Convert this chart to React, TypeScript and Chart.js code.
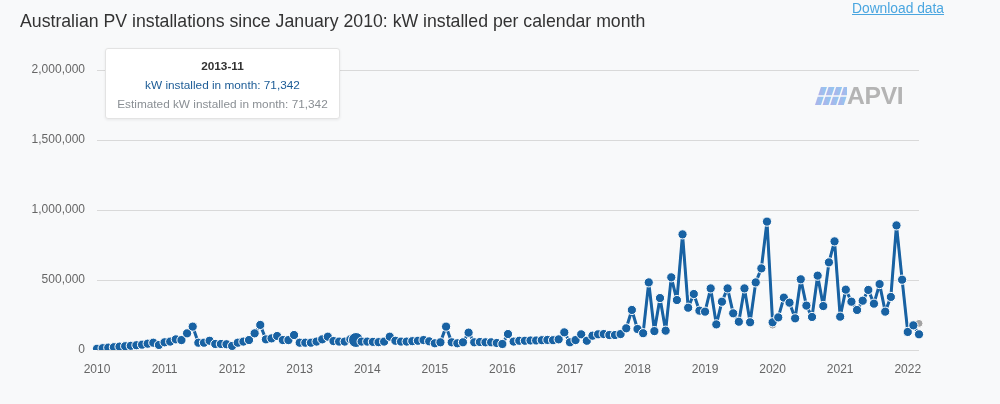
import React, { useEffect, useRef } from 'react';
import { Chart, registerables } from 'chart.js';

Chart.register(...registerables);

// ---- data ----
const START_YEAR = 2010;
const TITLE = 'Australian PV installations since January 2010: kW installed per calendar month';
const SERIES_NAME = 'kW installed in month';
const ESTIMATE_NAME = 'Estimated kW installed in month';

// kW installed per month, 2010-01 .. 2022-03
const INSTALLED_KW = [
  // 2010
  9000, 13000, 17000, 20000, 24000, 27000, 30000, 34000, 38000, 45000, 52000, 36000,
  // 2011
  55000, 60000, 76000, 71000, 119000, 167000, 52000, 52000, 66000, 43000, 43000, 41000,
  // 2012
  29000, 52000, 60000, 71000, 119000, 179000, 76000, 83000, 100000, 71000, 71000, 107000,
  // 2013
  52000, 52000, 52000, 60000, 76000, 95000, 64000, 60000, 60000, 76000, 71342, 60000,
  // 2014
  60000, 58000, 56000, 60000, 95000, 66000, 60000, 60000, 63000, 66000, 71000, 62000,
  // 2015
  48000, 55000, 167000, 55000, 48000, 55000, 124000, 55000, 57000, 55000, 55000, 50000,
  // 2016
  43000, 114000, 60000, 66000, 66000, 68000, 68000, 70000, 72000, 70000, 76000, 126000,
  // 2017
  55000, 71000, 112000, 66000, 102000, 112000, 114000, 107000, 107000, 114000, 155000, 286000,
  // 2018
  150000, 120000, 483000, 135000, 371000, 138000, 519000, 357000, 826000, 302000, 400000, 281000,
  // 2019
  274000, 440000, 183000, 345000, 440000, 262000, 202000, 440000, 198000, 483000, 583000, 917000,
  // 2020
  198000, 233000, 374000, 338000, 226000, 505000, 317000, 236000, 531000, 314000, 626000, 776000,
  // 2021
  238000, 431000, 345000, 286000, 352000, 429000, 331000, 471000, 274000, 379000, 890000, 502000,
  // 2022
  129000, 176000, 112000,
];

// estimated kW installed per month, 2010-01 .. 2022-03
const ESTIMATED_KW = [
  9000, 13000, 17000, 20000, 24000, 27000, 30000, 34000, 38000, 45000, 52000, 36000,
  55000, 60000, 76000, 71000, 119000, 167000, 52000, 52000, 66000, 43000, 43000, 41000,
  29000, 52000, 60000, 71000, 119000, 179000, 76000, 83000, 100000, 71000, 71000, 107000,
  52000, 52000, 52000, 60000, 76000, 95000, 64000, 60000, 60000, 76000, 71342, 60000,
  60000, 58000, 56000, 60000, 95000, 66000, 60000, 60000, 63000, 66000, 71000, 62000,
  48000, 55000, 167000, 55000, 48000, 55000, 124000, 55000, 57000, 55000, 55000, 50000,
  43000, 114000, 60000, 66000, 66000, 68000, 68000, 70000, 72000, 70000, 76000, 126000,
  55000, 71000, 112000, 66000, 102000, 112000, 114000, 107000, 107000, 114000, 155000, 286000,
  150000, 120000, 483000, 135000, 371000, 138000, 519000, 357000, 826000, 302000, 400000, 281000,
  274000, 440000, 183000, 345000, 440000, 262000, 202000, 440000, 198000, 483000, 583000, 917000,
  178000, 233000, 374000, 338000, 226000, 505000, 317000, 236000, 531000, 314000, 626000, 776000,
  238000, 431000, 345000, 286000, 352000, 429000, 331000, 471000, 274000, 379000, 890000, 502000,
  129000, 180000, 190000,
];

const Y_MIN = 0;
const Y_MAX = 2000000;
const Y_STEP = 500000;
const HOVER_INDEX = 46; // 2013-11

const MONTH_LABELS = INSTALLED_KW.map(
  (_, i) => `${START_YEAR + Math.floor(i / 12)}-${String((i % 12) + 1).padStart(2, '0')}`
);

const FONT = "'Liberation Sans', Arial, Helvetica, sans-serif";
const BLUE = '#1862a3';
const GREY_EST = '#a3a3a3';
const fmt = (v: number) => v.toLocaleString('en-US');

export default function App() {
  const canvasRef = useRef<HTMLCanvasElement | null>(null);

  useEffect(() => {
    if (!canvasRef.current) return;
    const chart = new Chart(canvasRef.current, {
      type: 'line',
      data: {
        labels: MONTH_LABELS,
        datasets: [
          {
            label: SERIES_NAME,
            data: INSTALLED_KW,
            borderColor: BLUE,
            backgroundColor: BLUE,
            borderWidth: 3,
            borderJoinStyle: 'round',
            borderCapStyle: 'round',
            pointBackgroundColor: BLUE,
            pointBorderColor: '#ffffff',
            pointBorderWidth: 1,
            pointRadius: (ctx: any) => (ctx.dataIndex === HOVER_INDEX ? 7.5 : 4.6),
            tension: 0,
          },
          {
            label: ESTIMATE_NAME,
            data: ESTIMATED_KW,
            borderColor: GREY_EST,
            backgroundColor: GREY_EST,
            borderWidth: 2,
            borderJoinStyle: 'round',
            pointBackgroundColor: GREY_EST,
            pointBorderColor: '#ffffff',
            pointBorderWidth: 1,
            pointRadius: 4,
            tension: 0,
          },
        ],
      },
      options: {
        responsive: false,
        animation: false,
        events: [],
        layout: { padding: { top: 70, right: 81, left: 0, bottom: 0 } },
        plugins: {
          legend: { display: false },
          tooltip: { enabled: false },
          title: { display: false },
        },
        scales: {
          x: {
            type: 'category',
            offset: false,
            grid: { display: false, drawTicks: false },
            border: { display: false },
            ticks: {
              autoSkip: false,
              maxRotation: 0,
              minRotation: 0,
              padding: 12,
              color: '#666666',
              font: { family: FONT, size: 12 },
              callback: (_v: any, idx: number) =>
                idx % 12 === 0 ? MONTH_LABELS[idx].slice(0, 4) : null,
            },
            afterFit: (scale: any) => {
              scale.height = 54;
            },
          },
          y: {
            min: Y_MIN,
            max: Y_MAX,
            grid: { color: '#d9d9d9', lineWidth: 1, drawTicks: false },
            border: { display: false },
            ticks: {
              stepSize: Y_STEP,
              padding: 12,
              color: '#666666',
              font: { family: FONT, size: 12 },
              callback: (v: any) => fmt(Number(v)),
            },
            afterFit: (scale: any) => {
              scale.width = 97;
            },
          },
        },
      },
    } as any);
    return () => chart.destroy();
  }, []);

  const tipLabel = MONTH_LABELS[HOVER_INDEX];
  const tipVal = INSTALLED_KW[HOVER_INDEX];
  const tipEst = ESTIMATED_KW[HOVER_INDEX];

  // APVI logo tiles
  const tiles: string[] = [];
  const H = 18;
  const slant = 0.33;
  const rows: [number, number][] = [
    [0, 8.2],
    [9.8, 18],
  ];
  for (let c = 0; c < 4; c++) {
    for (const [y0, y1] of rows) {
      const xl = (y: number) => c * 7.6 + (H - y) * slant;
      const w = 6;
      tiles.push(
        `${xl(y0)},${y0} ${xl(y0) + w},${y0} ${xl(y1) + w},${y1} ${xl(y1)},${y1}`
      );
    }
  }

  return (
    <div
      style={{
        position: 'fixed',
        left: 0,
        top: 0,
        width: 1000,
        height: 404,
        background: '#f8f9fa',
        fontFamily: FONT,
        overflow: 'hidden',
      }}
    >
      <canvas
        ref={canvasRef}
        width={1000}
        height={404}
        style={{ position: 'absolute', left: 0, top: 0, width: 1000, height: 404 }}
      />
      <div
        style={{
          position: 'absolute',
          left: 20,
          top: 10,
          fontSize: 17.7,
          lineHeight: '22px',
          color: '#333333',
          whiteSpace: 'nowrap',
        }}
      >
        {TITLE}
      </div>
      <div
        style={{
          position: 'absolute',
          left: 852,
          top: 0,
          fontSize: 13.8,
          lineHeight: '18px',
          color: '#4aa6e0',
          textDecoration: 'underline',
          whiteSpace: 'nowrap',
        }}
      >
        Download data
      </div>
      <div
        style={{
          position: 'absolute',
          left: 815,
          top: 87,
          display: 'flex',
          alignItems: 'flex-end',
        }}
      >
        <svg width={32} height={18} style={{ display: 'block' }}>
          <defs>
            <linearGradient id="apviGrad" x1="0" y1="0" x2="1" y2="0">
              <stop offset="0%" stopColor="#b3b0e8" />
              <stop offset="100%" stopColor="#8ccaf2" />
            </linearGradient>
          </defs>
          {tiles.map((p, i) => (
            <polygon key={i} points={p} fill="url(#apviGrad)" />
          ))}
        </svg>
        <div
          style={{
            fontSize: 24.7,
            fontWeight: 700,
            lineHeight: '18px',
            height: 18,
            color: '#b4b4b4',
            letterSpacing: -0.3,
          }}
        >
          APVI
        </div>
      </div>
      <div
        style={{
          position: 'absolute',
          left: 105,
          top: 48,
          width: 235,
          height: 71,
          boxSizing: 'border-box',
          background: '#ffffff',
          border: '1px solid #e3e3e3',
          borderRadius: 3,
          boxShadow: '0 1px 3px rgba(0,0,0,0.07)',
          textAlign: 'center',
          fontSize: 11.8,
          paddingTop: 8,
          whiteSpace: 'nowrap',
        }}
      >
        <div style={{ lineHeight: '19px', fontWeight: 700, color: '#333333' }}>{tipLabel}</div>
        <div style={{ lineHeight: '19px', color: '#1d5c96' }}>
          {SERIES_NAME}: {fmt(tipVal)}
        </div>
        <div style={{ lineHeight: '19px', color: '#8a8f94' }}>
          {ESTIMATE_NAME}: {fmt(tipEst)}
        </div>
      </div>
    </div>
  );
}
